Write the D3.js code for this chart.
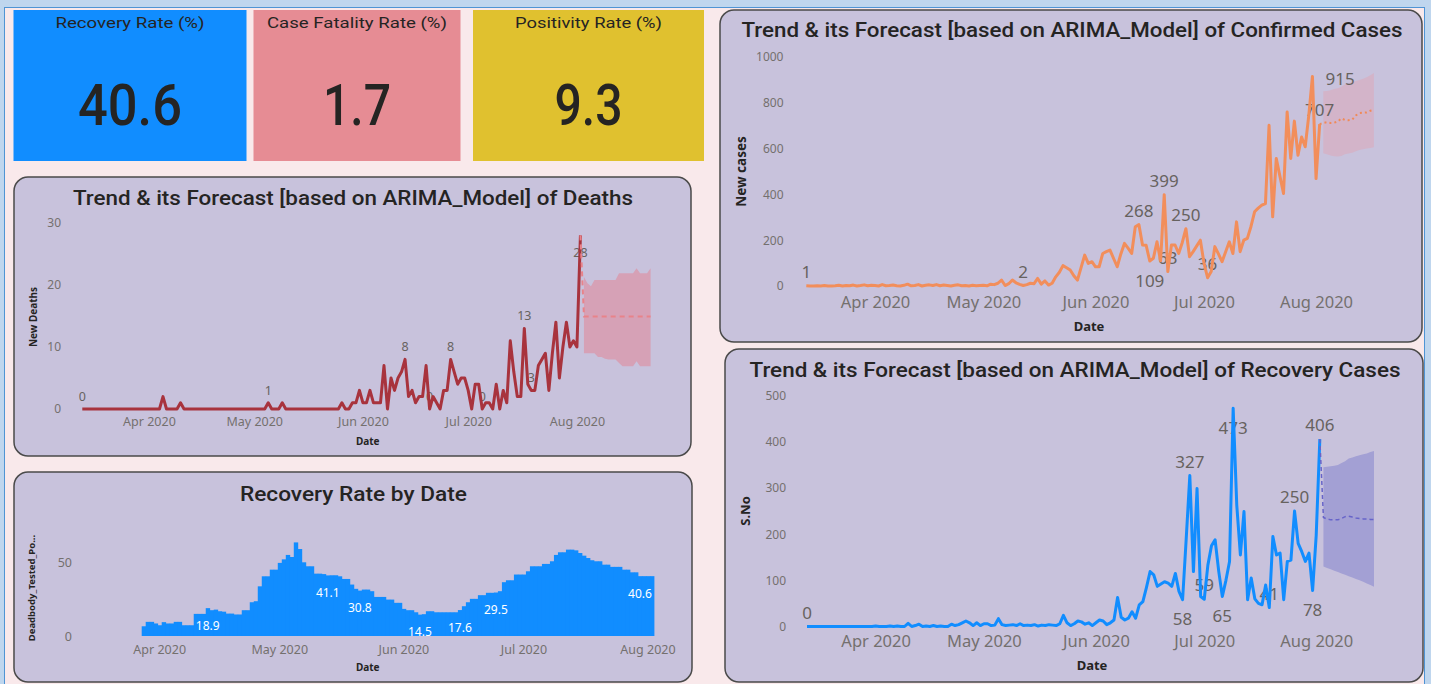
<!DOCTYPE html>
<html>
  <head>
    <meta charset="utf-8">
    <title>COVID-19 dashboard</title>
    <script src="https://d3js.org/d3.v7.min.js"></script>
    <style>
      body { margin: 0; background: #bfd6ee; }
      svg { display: block; }
      text { font-family: 'Segoe UI', 'Noto Sans', sans-serif; }
      .title { font-family: DIN, Roboto, sans-serif; font-weight: 500; fill: #252423; }
      .kpi-name { font-weight: 400; }
      .tick text { fill: #74706e; }
      .axis-title { font-weight: bold; fill: #252423; }
      .lbl { fill: #67625f; }
    </style>
  </head>
  <body>
    <script>
      var start = new Date(2020, 2, 13);      // first day of the daily series
      var rateStart = new Date(2020, 2, 28);  // first day of the recovery rate bars

      var kpiNames = ['Recovery Rate (%)', 'Case Fatality Rate (%)', 'Positivity Rate (%)'];
      var kpiValues = ['40.6', '1.7', '9.3'];

      // new deaths per day, 13 Mar - 2 Aug
      var newDeaths = [
        0,0,0,0,0,0,0,0,0,0, 0,0,0,0,0,0,0,0,0,0, 0,0,0,2,0,0,0,0,1,0,
        0,0,0,0,0,0,0,0,0,0, 0,0,0,0,0,0,0,0,0,0, 0,0,0,1,0,0,0,1,0,0,
        0,0,0,0,0,0,0,0,0,0, 0,0,0,0,1,0,0,1,1,3, 1,1,3,1,1,1,7,0,5,3,
        5,6,8,2,3,1,2,2,7,0, 2,1,0,3,3,8,6,4,5,5, 3,0,4,4,0,1,1,0,4,0,
        3,1,11,6,2,2,13,4,3,3, 7,8,9,3,9,14,5,10,14,10, 11,10,28
      ];
      var deathsFcMean = [14.9,14.9,14.9,14.9,14.9,14.9,14.9,14.9,14.9,14.9,14.9,14.9,14.9,14.9,14.9,14.9,14.9,14.9,14.9,14.9];
      var deathsFcLow  = [9,9,9,9,8.4,8.4,8.1,8,8,8,7.4,6.9,6.9,6.9,6.9,7.7,6.9,6.9,6.9,6.9];
      var deathsFcHigh = [21.3,20.3,19.8,20.8,20.8,20.8,20.8,20.8,20.8,20.8,21.9,21.9,21.9,21.9,21.9,22.7,21.9,21.9,21.9,22.7];
      var deathsTicks = [0, 10, 20, 30];

      // new confirmed cases per day
      var newCases = [
        1,0,0,1,0,2,0,0,1,3, 0,2,1,4,0,2,5,1,3,2, 0,6,1,2,4,1,0,3,8,1,
        2,6,0,3,5,2,6,1,4,2, 0,3,5,1,2,0,3,1,2,3, 1,8,6,12,26,2,10,26,14,7,
        2,6,12,10,33,8,22,4,12,40, 60,89,80,70,45,26,80,135,99,106, 84,84,142,150,157,120,84,140,186,165,
        142,259,268,179,178,109,121,193,110,399, 63,179,179,142,190,250,128,150,175,200,
        100,36,63,172,140,106,150,193,142,280, 150,200,208,260,324,340,353,360,702,302,
        557,480,404,760,557,720,571,651,608,746, 915,469,707
      ];
      var casesFcMean = [712,715,712,713,718,732,725,724,726,745,755,757,758,765,769];
      var casesFcLow  = [580,575,570,567,565,568,575,579,582,588,594,597,600,603,606];
      var casesFcHigh = [850,852,855,860,864,870,880,886,890,895,900,905,912,920,930];
      var casesTicks = [0, 200, 400, 600, 800, 1000];

      // recovered per day
      var recovered = [
        0,0,0,0,0,0,0,0,0,0, 0,0,0,0,0,0,0,0,0,1, 0,0,0,1,0,1,0,0,7,0,
        2,5,0,1,0,2,0,1,0,0, 5,2,4,8,12,8,2,8,2,6, 6,2,3,17,4,2,3,4,2,6,
        2,3,2,4,1,3,2,4,3,2, 6,24,8,2,6,12,10,5,8,2, 8,14,12,4,8,14,63,20,14,18,
        32,18,47,54,85,119,112,87,92,97, 94,87,115,76,58,190,327,119,299,65,
        59,133,175,188,120,65,100,141,473,263, 155,249,58,105,60,50,47,90,41,195,
        155,159,58,141,144,250,180,162,141,159, 78,198,406
      ];
      var recFcMean = [236,233,231,231,231,234,238,239,237,235,234,233,233,232,232];
      var recFcLow  = [130,127,124,121,118,115,112,109,106,103,100,97,93,90,86];
      var recFcHigh = [345,346,347,348,350,354,358,364,366,369,371,373,375,378,380];
      var recTicks = [0, 100, 200, 300, 400, 500];

      // recovery rate (%) by date, 28 Mar - 2 Aug
      var recoveryRate = [
        6.6,9.6,9.6,8.5,7.3,9.4,8.5,8.5,9.6,9.6, 7.3,7.3,7.3,15,15,15,18.9,17.5,17.9,16.8,
        16.5,15.2,15.2,14.6,14.6,17.5,17.5,22.9,23.6,33.7, 40.5,40.5,45,45,49.6,52,55,53.6,63.5,59,
        50,47.3,47.3,42.3,42.3,42,41.1,41.2,41.2,40.5, 38.7,38.7,34.9,32,30.8,31.5,31.5,30.4,26.5,26.5,
        26.5,24.7,24.7,22.5,22.5,18.4,17.5,17.5,16.1,14.5, 14.8,16.8,16.8,16.1,16.1,16.1,16.1,16.1,16.1,17.6,
        20.2,22.9,25.2,25.2,27.7,27.7,29.3,29.3,29.5,30.4, 36.5,37.8,37.8,41.7,41.7,41.7,43.9,47.3,47.3,47.3,
        48.9,48.9,50.7,55,56.8,56.8,58.6,58.6,58.1,56.3, 54.5,52.9,51.4,50.7,50.7,48.4,48.4,46.9,46.9,46.9,
        45,45,43.2,43.2,40.6,40.6,40.6,40.6
      ];
      var rateTicks = [0, 50];
      var rateLabelIdx = [16, 46, 54, 69, 79, 88, 124];

      var svg = d3.select('body').append('svg').attr('width', 1431).attr('height', 684);
      var monthFmt = d3.timeFormat('%b %Y');

      svg.append('rect').attr('width', 1431).attr('height', 684).attr('fill', '#bfd6ee');
      svg.append('rect').attr('x', 4.5).attr('y', 7.5).attr('width', 1420).attr('height', 690)
        .attr('fill', '#f9e9eb').attr('stroke', '#4f94d4');

      function fit(sel, w) {
        return sel.attr('textLength', w).attr('lengthAdjust', 'spacingAndGlyphs');
      }

      function panel(p) {
        svg.append('rect').attr('x', p.box[0]).attr('y', p.box[1])
          .attr('width', p.box[2]).attr('height', p.box[3]).attr('rx', 14)
          .attr('fill', '#c8c2dc').attr('stroke', '#4a4a4a').attr('stroke-width', 1.5);
        fit(svg.append('text').attr('class', 'title').attr('x', p.titleX).attr('y', p.titleY)
          .attr('text-anchor', 'middle').attr('font-size', 21).text(p.title), p.titleW);
      }

      function axisTitles(p) {
        svg.append('text').attr('class', 'axis-title').attr('x', p.xTitle[0]).attr('y', p.xTitle[1])
          .attr('text-anchor', 'middle').attr('dominant-baseline', 'central')
          .attr('font-size', p.xTitle[2]).text('Date');
        svg.append('text').attr('class', 'axis-title')
          .attr('transform', 'translate(' + p.yTitle[1] + ',' + p.yTitle[2] + ') rotate(-90)')
          .attr('text-anchor', 'middle').attr('dominant-baseline', 'central')
          .attr('font-size', p.yTitle[3]).text(p.yTitle[0]);
      }

      // KPI cards
      var cards = [[13.5, 233, '#118dff', 149, 104], [253.5, 207, '#e68c94', 180, 68], [473, 231, '#e0c12f', 147, 68]];
      cards.forEach(function(c, i) {
        svg.append('rect').attr('x', c[0]).attr('y', 10).attr('width', c[1]).attr('height', 151).attr('fill', c[2]);
        fit(svg.append('text').attr('class', 'title kpi-name').attr('x', c[0] + c[1] / 2).attr('y', 27.7)
          .attr('text-anchor', 'middle').attr('font-size', 15.5).text(kpiNames[i]), c[3]);
        fit(svg.append('text').attr('class', 'title').attr('x', c[0] + c[1] / 2).attr('y', 125)
          .attr('text-anchor', 'middle').attr('font-size', 58).text(kpiValues[i]), c[4]);
      });

      function trendChart(p) {
        panel(p);
        axisTitles(p);
        var n = p.values.length;
        var day = function(i) { return d3.timeDay.offset(start, i); };
        var x = d3.scaleTime().domain([start, day(n - 1 + p.mean.length)]).range(p.xr);
        var y = d3.scaleLinear().domain([0, d3.max(p.ticks)]).range(p.yr);

        var ya = svg.append('g').attr('transform', 'translate(' + p.yAxisX + ',0)')
          .call(d3.axisLeft(y).tickValues(p.ticks).tickFormat(d3.format('d')).tickSize(0).tickPadding(0));
        ya.select('.domain').remove();
        ya.selectAll('text').attr('font-size', p.yFont);

        var xa = svg.append('g').attr('transform', 'translate(0,' + p.xAxisY + ')')
          .call(d3.axisBottom(x).ticks(d3.timeMonth.every(1)).tickFormat(monthFmt).tickSize(0).tickPadding(0));
        xa.select('.domain').remove();
        xa.selectAll('text').attr('dy', '0.35em').attr('font-size', p.xFont);

        var fc = p.mean.map(function(v, k) {
          return { d: day(n + k), v: v, lo: p.low[k], hi: p.high[k] };
        });
        svg.append('path').datum(fc).attr('fill', p.band)
          .attr('d', d3.area().x(function(d) { return x(d.d); })
            .y0(function(d) { return y(d.lo); }).y1(function(d) { return y(d.hi); }));

        svg.selectAll(null).data(p.labels).enter().append('text').attr('class', 'lbl')
          .attr('font-size', p.labelFont).attr('dominant-baseline', 'central')
          .attr('text-anchor', function(l) { return l[1] == 'r' ? 'start' : 'middle'; })
          .attr('x', function(l) { return x(day(l[0])) + (l[1] == 'r' ? 13 : 0); })
          .attr('y', function(l) {
            var py = y(p.values[l[0]]);
            return l[1] == 'a' ? py - p.gap[0] : l[1] == 'b' ? py + p.gap[1] : py + 2;
          })
          .text(function(l) { return p.values[l[0]]; });

        svg.append('path').datum(p.values).attr('fill', 'none').attr('stroke', p.color)
          .attr('stroke-width', 3).attr('stroke-linejoin', 'round')
          .attr('d', d3.line().x(function(v, i) { return x(day(i)); }).y(function(v) { return y(v); }));

        svg.append('path').datum([{ d: day(n - 1), v: p.values[n - 1] }].concat(fc))
          .attr('fill', 'none').attr('stroke', p.fcColor).attr('stroke-width', p.fcWidth)
          .attr('stroke-dasharray', p.dash)
          .attr('d', d3.line().x(function(d) { return x(d.d); }).y(function(d) { return y(d.v); }));
      }

      trendChart({
        box: [14, 177, 677, 279], title: 'Trend & its Forecast [based on ARIMA_Model] of Deaths',
        titleX: 353, titleY: 204.5, titleW: 560,
        values: newDeaths, mean: deathsFcMean, low: deathsFcLow, high: deathsFcHigh, ticks: deathsTicks,
        xr: [82.3, 650.6], yr: [409, 223], yAxisX: 61, yFont: 12, xAxisY: 422, xFont: 12.5,
        xTitle: [367.7, 441, 10], yTitle: ['New Deaths', 33, 317, 10],
        color: '#a8333d', band: '#d6a1b6', fcColor: '#e8838a', dash: '5,4', fcWidth: 2,
        labelFont: 12.5, gap: [12.5, 17],
        labels: [[0, 'a'], [53, 'a'], [92, 'a'], [99, 'a'], [105, 'a'], [114, 'a'], [126, 'a'], [128, 'a'], [142, 'b']]
      });

      trendChart({
        box: [720, 10, 702, 332], title: 'Trend & its Forecast [based on ARIMA_Model] of Confirmed Cases',
        titleX: 1072, titleY: 37.3, titleW: 661,
        values: newCases, mean: casesFcMean, low: casesFcLow, high: casesFcHigh, ticks: casesTicks,
        xr: [806.3, 1373.9], yr: [286, 57], yAxisX: 783.5, yFont: 12, xAxisY: 302.5, xFont: 16.5,
        xTitle: [1089, 326, 13], yTitle: ['New cases', 740.5, 171.5, 13.5],
        color: '#f28e5b', band: '#d3b4c9', fcColor: '#f08a58', dash: '2,3', fcWidth: 2,
        labelFont: 17, gap: [14.5, 19],
        labels: [[0, 'a'], [60, 'a'], [92, 'a'], [95, 'b'], [99, 'a'], [100, 'a'], [105, 'a'], [111, 'a'], [140, 'r'], [142, 'a']]
      });

      trendChart({
        box: [725, 349, 698, 333], title: 'Trend & its Forecast [based on ARIMA_Model] of Recovery Cases',
        titleX: 1075, titleY: 376.7, titleW: 651,
        values: recovered, mean: recFcMean, low: recFcLow, high: recFcHigh, ticks: recTicks,
        xr: [807, 1374], yr: [626.5, 395.7], yAxisX: 786, yFont: 12, xAxisY: 641.7, xFont: 16.5,
        xTitle: [1092, 665, 13], yTitle: ['S.No', 744.5, 511, 13],
        color: '#118dff', band: '#a3a0d4', fcColor: '#6764c9', dash: '4,3', fcWidth: 1.5,
        labelFont: 17, gap: [14.5, 19],
        labels: [[0, 'a'], [104, 'b'], [106, 'a'], [110, 'a'], [115, 'b'], [118, 'b'], [128, 'a'], [135, 'a'], [140, 'b'], [142, 'a']]
      });

      // Recovery rate columns
      var rp = {
        box: [14, 472, 678, 210], title: 'Recovery Rate by Date', titleX: 353.4, titleY: 500.7, titleW: 227,
        xTitle: [367.7, 667.3, 10], yTitle: ['Deadbody_Tested_Po...', 31.7, 588, 9.5]
      };
      panel(rp);
      axisTitles(rp);
      var rateDays = recoveryRate.map(function(v, i) { return d3.timeDay.offset(rateStart, i); });
      var xb = d3.scaleBand().domain(rateDays).range([141.7, 654]);
      var yb = d3.scaleLinear().domain([0, 50]).range([636, 562.3]);

      var yba = svg.append('g').attr('transform', 'translate(72,0)')
        .call(d3.axisLeft(yb).tickValues(rateTicks).tickSize(0).tickPadding(0));
      yba.select('.domain').remove();
      yba.selectAll('text').attr('font-size', 12.5);

      var xba = svg.append('g').attr('transform', 'translate(0,650)')
        .call(d3.axisBottom(xb).tickValues(rateDays.filter(function(d) { return d.getDate() == 1; }))
          .tickFormat(monthFmt).tickSize(0).tickPadding(0));
      xba.select('.domain').remove();
      xba.selectAll('text').attr('dy', '0.35em').attr('font-size', 12.5);

      svg.selectAll('rect.bar').data(recoveryRate).enter().append('rect').attr('class', 'bar')
        .attr('x', function(v, i) { return xb(rateDays[i]); })
        .attr('width', xb.bandwidth() + 0.4)
        .attr('y', function(v) { return yb(v); })
        .attr('height', function(v) { return yb(0) - yb(v); })
        .attr('fill', '#118dff');

      svg.selectAll(null).data(rateLabelIdx).enter().append('text')
        .attr('x', function(i) { return xb(rateDays[i]) + xb.bandwidth() / 2; })
        .attr('y', function(i) { return yb(recoveryRate[i]) + 17; })
        .attr('text-anchor', 'middle').attr('dominant-baseline', 'central')
        .attr('font-size', 12).attr('fill', '#ffffff')
        .text(function(i) { return d3.format('.1f')(recoveryRate[i]); });
    </script>
  </body>
</html>
